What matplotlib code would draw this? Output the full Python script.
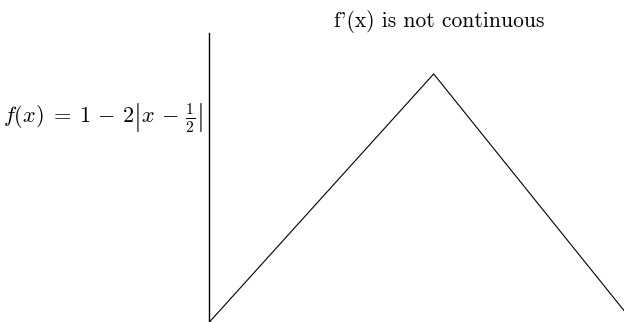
import matplotlib as mpl
mpl.use('Agg')
import matplotlib.pyplot as plt

# tent function f(x) = 1 - 2|x - 1/2|
x = [0.0, 0.5, 0.945]
y = [0.0, 1.0, 0.0]

plt.rcParams['mathtext.fontset'] = 'cm'

fig = plt.figure(figsize=(6.24, 3.22), dpi=100)
ax = fig.add_axes([0.3357, 0.0, 0.738, 0.8975])
ax.plot(x, y, color='black', lw=0.8)
ax.set_xlim(0, 1.027)
ax.set_ylim(0, 1.165)

for side in ['top', 'right', 'bottom']:
    ax.spines[side].set_visible(False)
ax.spines['left'].set_linewidth(1.0)
ax.set_xticks([])
ax.set_yticks([])

ax.set_title("f'(x) is not continuous", family=['cmr10', 'DejaVu Serif'],
             fontsize=15.5, pad=4)
ax.set_ylabel(r'$f(x)\;=\;1\,-\,2\left|x\,-\,\frac{1}{2}\right|$', fontsize=16,
              rotation=0, ha='right', va='center')
ax.yaxis.set_label_coords(-0.014, 0.706)

plt.savefig('out.png', dpi=100)
